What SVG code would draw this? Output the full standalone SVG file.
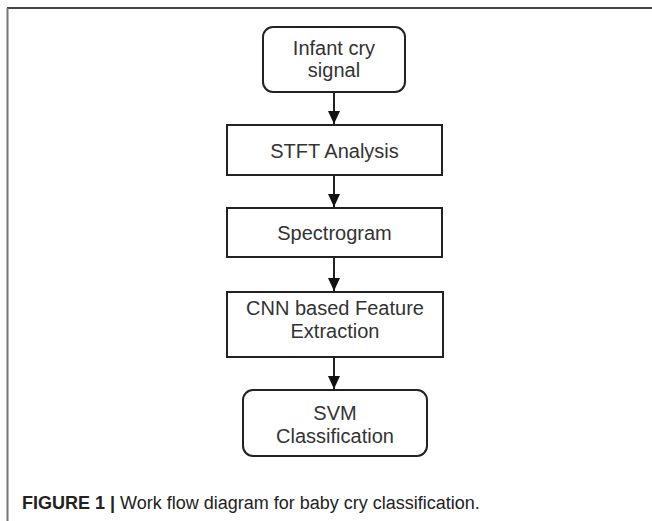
<svg xmlns="http://www.w3.org/2000/svg" width="652" height="521" viewBox="0 0 652 521">
<defs>
<style>
.box{fill:#fff;stroke:#222;stroke-width:2}
.lbl{font-family:"Liberation Sans",Arial,sans-serif;font-size:20px;fill:#333;text-anchor:middle}
.con{stroke:#222;stroke-width:2;fill:none}
.cap{font-family:"Liberation Sans",Arial,sans-serif;font-size:18px;fill:#222}
</style>
<marker id="ah" viewBox="0 0 13 12" refX="13" refY="6" markerWidth="13" markerHeight="12" markerUnits="userSpaceOnUse" orient="auto">
<path d="M0,0 L13,6 L0,12 Z" fill="#111"/>
</marker>
</defs>
<rect width="652" height="521" fill="#fff"/>
<line x1="7" y1="8" x2="652" y2="8" stroke="#444" stroke-width="2"/>
<line x1="7.5" y1="8" x2="7.5" y2="521" stroke="#777" stroke-width="2"/>
<g id="connectors">
<line class="con" x1="334" y1="92" x2="334" y2="124" marker-end="url(#ah)"/>
<line class="con" x1="334" y1="175" x2="334" y2="207" marker-end="url(#ah)"/>
<line class="con" x1="334" y1="257" x2="334" y2="291" marker-end="url(#ah)"/>
<line class="con" x1="334" y1="357" x2="334" y2="389" marker-end="url(#ah)"/>
</g>
<g id="n1">
<rect class="box" x="263" y="27" width="142" height="65" rx="10"/>
<text class="lbl" x="334" y="55">Infant cry</text>
<text class="lbl" x="334" y="77">signal</text>
</g>
<g id="n2">
<rect class="box" x="227" y="125" width="215" height="50"/>
<text class="lbl" x="334.5" y="158">STFT Analysis</text>
</g>
<g id="n3">
<rect class="box" x="227" y="208" width="215" height="49"/>
<text class="lbl" x="334.5" y="240">Spectrogram</text>
</g>
<g id="n4">
<rect class="box" x="227" y="292" width="216" height="65"/>
<text class="lbl" x="335" y="315">CNN based Feature</text>
<text class="lbl" x="335" y="338">Extraction</text>
</g>
<g id="n5">
<rect class="box" x="243" y="390" width="184" height="66" rx="10"/>
<text class="lbl" x="335" y="420">SVM</text>
<text class="lbl" x="335" y="443">Classification</text>
</g>
<text class="cap" x="22" y="509"><tspan font-weight="bold">FIGURE 1 | </tspan>Work flow diagram for baby cry classification.</text>
</svg>
